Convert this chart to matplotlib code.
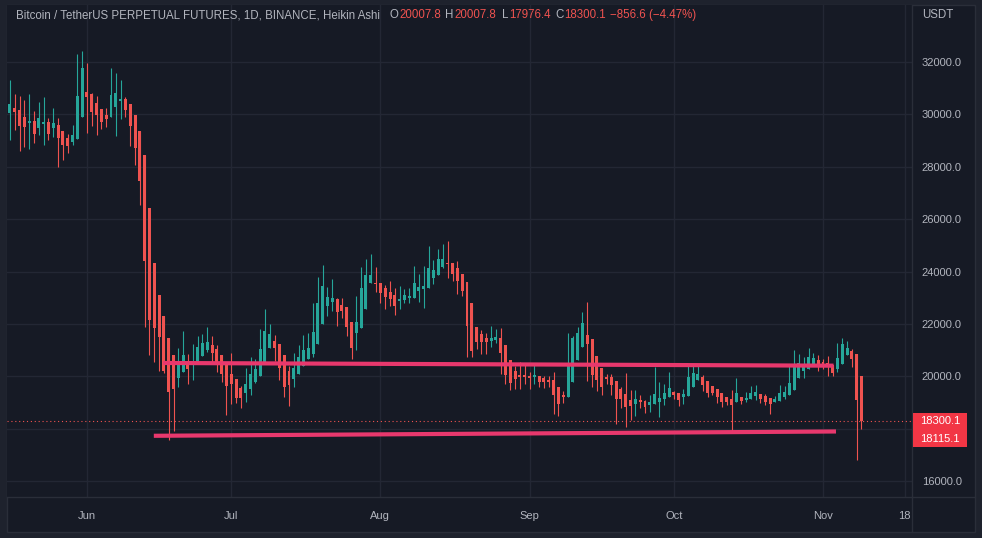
import matplotlib
matplotlib.use("Agg")
import matplotlib.pyplot as plt
from matplotlib.patches import Rectangle
from matplotlib.lines import Line2D

# Heikin Ashi daily candles, BTCUSDT perp, 16 May .. 9 Nov (index 0 = 16 May)
opens = [30064, 30244, 30167, 29900, 29682, 29748, 29491, 29634, 29710, 29491,
         29595, 29365, 29098, 28957, 29072, 29889, 30855, 30778, 30434, 30206,
         29977, 29912, 30294, 30522, 30587, 30396, 29977, 29365, 28449, 26426,
         24337, 23104, 22302, 21462, 20813, 19935, 20176, 20558, 20431, 20458,
         20786, 21004, 21195, 21042, 20813, 20458, 20087, 19897, 19553, 19374,
         19527, 19770, 20024, 20508, 21092, 21348, 21233, 20813, 20202, 19908,
         20100, 20405, 20672, 20863, 21245, 22009, 22698, 22848, 22951, 22722,
         22645, 22073, 21665, 21856, 22581, 23574, 23562, 23562, 23371, 23218,
         23104, 22887, 22925, 22989, 23001, 23257, 23333, 23371, 23753, 23880,
         24185, 24325, 24325, 24135, 23905, 23600, 22798, 21882, 21615, 21462,
         21348, 21386, 21462, 21195, 20622, 20202, 20061, 20049, 20011, 19985,
         20011, 19935, 19870, 19870, 19591, 19286, 19221, 19794, 20634, 21130,
         21576, 21424, 20775, 20317, 19973, 19973, 19832, 19526, 19335, 19107,
         18954, 19083, 19056, 18904, 18942, 19018, 19133, 19209, 19400, 19362,
         19209, 19247, 19591, 19858, 19973, 19820, 19629, 19514, 19362, 19209,
         19133, 19018, 19209, 19094, 19133, 19247, 19324, 19247, 19171, 19018,
         19056, 19209, 19285, 19476, 19935, 20202, 20278, 20469, 20622, 20546,
         20508, 20431, 20278, 20469, 20813, 20966, 20851, 20007.8]
highs = [31313, 30778, 30701, 30549, 30778, 30117, 30473, 30676, 29862, 30244,
         29862, 29377, 29251, 29595, 32305, 32431, 31950, 30804, 30702, 30206,
         30232, 31771, 31580, 31313, 30664, 30396, 29977, 29365, 28449, 26426,
         24337, 23104, 22302, 21462, 20813, 21068, 21729, 20851, 21233, 21538,
         21615, 21882, 21538, 21195, 20813, 20458, 20889, 19897, 19642, 20317,
         20736, 20660, 21805, 22569, 21996, 21577, 21233, 20813, 20393, 20889,
         21195, 21577, 21653, 22798, 23791, 24249, 23409, 23714, 22989, 22989,
         22645, 22073, 23066, 24173, 24478, 24669, 24173, 23562, 23485, 23638,
         23371, 23447, 23333, 23371, 24211, 23905, 24211, 24975, 24440, 24860,
         25051, 25165, 24325, 24402, 23905, 23600, 22798, 21882, 21767, 21653,
         21920, 21806, 21844, 21195, 20622, 20393, 20546, 20431, 20164, 20431,
         20011, 20011, 20011, 20164, 19591, 19439, 21653, 21538, 21882, 22454,
         22836, 21424, 20775, 20317, 20087, 20087, 19832, 19603, 20126, 19488,
         19488, 19285, 19094, 19285, 20355, 19782, 19705, 20164, 19438, 19362,
         19514, 20469, 20431, 20431, 20049, 19820, 19629, 19514, 19362, 19209,
         19476, 19935, 19209, 19400, 19629, 19667, 19324, 19324, 19171, 19247,
         19667, 19629, 20393, 21004, 20851, 20736, 21080, 20889, 20813, 20660,
         20775, 20431, 21271, 21462, 21348, 21042, 20851, 20007.8]
lows = [29033, 29414, 28613, 28743, 28690, 28919, 29224, 28843, 29022, 29148,
        27979, 28258, 28537, 28843, 29072, 29889, 29300, 29568, 29224, 29453,
        29530, 29888, 29186, 29835, 29911, 28804, 28079, 26552, 21893, 20813,
        20546, 20202, 20126, 17568, 17923, 19603, 20176, 19706, 19859, 20458,
        20786, 20928, 20546, 20176, 19794, 18522, 18943, 18969, 18777, 19030,
        19297, 19755, 20024, 20508, 21092, 20584, 19859, 19221, 18877, 19603,
        20100, 20405, 20672, 20749, 21245, 22009, 22314, 22505, 21933, 22238,
        21550, 20672, 21016, 21856, 22581, 23574, 23219, 22798, 22569, 22684,
        22340, 22581, 22810, 22810, 23001, 22848, 22619, 23371, 23524, 23880,
        24135, 23753, 23638, 23142, 23077, 20749, 20749, 21054, 20851, 20851,
        21130, 21271, 20087, 19718, 19488, 19527, 19527, 19718, 19527, 19718,
        19603, 19565, 19603, 18561, 18484, 18992, 19221, 19794, 20634, 21130,
        19832, 19603, 19450, 19297, 19718, 19297, 18190, 18801, 18076, 18343,
        18496, 18790, 18598, 18637, 18942, 18445, 18904, 19209, 19133, 18866,
        18942, 19247, 19591, 19858, 19438, 19209, 19285, 18980, 18828, 18904,
        17911, 19018, 18942, 19018, 19133, 19094, 18980, 18904, 18560, 19018,
        19056, 19133, 19285, 19476, 19935, 19935, 20278, 20469, 20202, 20278,
        20011, 20011, 20164, 20469, 20813, 20355, 16804, 17976.4]
closes = [30396, 30103, 29567, 29529, 29748, 29262, 29862, 29710, 29262, 29672,
          29110, 28843, 28804, 29213, 30701, 31771, 30676, 30102, 29988, 29720,
          29824, 30740, 30816, 30587, 30167, 29568, 28728, 27468, 24413, 22149,
          21855, 21512, 20202, 19400, 19527, 20431, 20813, 20291, 20558, 21118,
          21271, 21309, 20889, 20519, 20096, 19642, 19718, 19183, 19183, 19706,
          20087, 20278, 21042, 21729, 21615, 21092, 20329, 19603, 19679, 20317,
          20736, 21004, 21080, 21691, 22798, 23447, 23027, 22989, 22467, 22505,
          21894, 21092, 22073, 23371, 23867, 23867, 23524, 23180, 23040, 22951,
          22684, 22963, 23104, 23066, 23562, 23409, 23447, 24135, 24058, 24478,
          24478, 24300, 23905, 23638, 23257, 21932, 20977, 21322, 21309, 21322,
          21462, 21500, 20901, 20061, 19754, 19908, 19973, 19973, 19947, 20049,
          19794, 19782, 19782, 19297, 18954, 19221, 20393, 21462, 21653, 22034,
          21245, 20061, 19870, 19603, 19908, 19679, 19145, 19145, 18839, 18878,
          19145, 19018, 18828, 19018, 19324, 19171, 19362, 19553, 19285, 19094,
          19324, 19973, 20126, 20087, 19667, 19362, 19362, 19209, 19018, 19018,
          18904, 19362, 19056, 19171, 19362, 19400, 19133, 19018, 18942, 19133,
          19362, 19400, 19744, 20469, 20508, 20355, 20736, 20698, 20469, 20393,
          20355, 20126, 20698, 21233, 21080, 20660, 19094, 18300.1]

month_pos = [16, 46, 77, 108, 138, 169, 186]
month_labels = ["Jun", "Jul", "Aug", "Sep", "Oct", "Nov", "18"]
price_ticks = [16000, 18000, 20000, 22000, 24000, 26000, 28000, 30000, 32000]

# the two hand drawn trend lines (day index, price)
upper_x = [31.8, 171.2]
upper_y = [20508, 20405]
lower_x = [29.9, 171.7]
lower_y = [17728, 17893]

last_price = 18300.1
extra_price = 18115.1

BG = "#161A25"
GRID = "#232734"
BORDER = "#2A2E39"
TXT = "#B2B5BE"
UP = "#26A69A"
DOWN = "#EF5350"
PINK = "#E8386D"

W, H = 982, 538


def px(x, y):
    return x / W, 1 - y / H


fig = plt.figure(figsize=(W / 100, H / 100), dpi=100, facecolor="#1E222D")
plt.rcParams["font.family"] = ["Liberation Sans", "DejaVu Sans"]

# chart frame background
fig.patches.append(Rectangle(px(7, 532), 968 / W, 527 / H, transform=fig.transFigure,
                             facecolor=BG, edgecolor=BORDER, lw=1, zorder=-2))

l, b = px(7, 497)
ax = fig.add_axes([l, b, 905 / W, 492 / H])
ax.set_facecolor(BG)
for s in ax.spines.values():
    s.set_visible(False)

ax.set_xlim(-0.62, 187.5)
ax.set_ylim(15391, 34176)

ax.set_yticks(price_ticks)
ax.set_yticklabels([f"{p:.1f}" for p in price_ticks])
ax.set_xticks(month_pos)
ax.set_xticklabels(month_labels)
ax.yaxis.tick_right()
ax.tick_params(axis="y", length=0, pad=7, labelsize=8, labelcolor=TXT)
ax.tick_params(axis="x", length=0, pad=10, labelsize=8, labelcolor=TXT)
ax.grid(True, color=GRID, lw=1)
ax.set_axisbelow(True)

n = len(opens)
idx = list(range(n))
cols = [UP if c >= o else DOWN for o, c in zip(opens, closes)]
ax.vlines(idx, lows, highs, colors=cols, lw=0.8, zorder=2)
bottoms = [min(o, c) for o, c in zip(opens, closes)]
heights = [max(abs(c - o), 40) for o, c in zip(opens, closes)]
ax.bar(idx, heights, bottom=bottoms, width=0.62, color=cols, lw=0, zorder=3)

ax.plot(upper_x, upper_y, color=PINK, lw=3, solid_capstyle="butt", zorder=4)
ax.plot(lower_x, lower_y, color=PINK, lw=3, solid_capstyle="butt", zorder=4)
ax.axhline(last_price, color=DOWN, lw=0.8, ls=(0, (1, 2.5)), zorder=1)

# separators between chart, price scale and time scale
fig.add_artist(Line2D([912 / W, 912 / W], [px(0, 5)[1], px(0, 532)[1]], color=BORDER, lw=1))
fig.add_artist(Line2D([7 / W, 975 / W], [b, b], color=BORDER, lw=1))

# price labels on the scale
for price, ytop in [(last_price, 413), (extra_price, 430)]:
    fig.patches.append(Rectangle(px(913, ytop + 16.5), 54 / W, 16.5 / H,
                                 transform=fig.transFigure, facecolor="#F23645",
                                 edgecolor="none", zorder=5))
    fig.text(*px(940, ytop + 8.5), f"{price:.1f}", color="white", fontsize=8,
             ha="center", va="center", zorder=6)

# legend line at top
fs = 8.3
fig.text(*px(15.5, 15), "Bitcoin / TetherUS PERPETUAL FUTURES, 1D, BINANCE, Heikin Ashi",
         color=TXT, fontsize=fs, va="center")
for letter, lx, val, vx in [("O", 389, "20007.8", 399), ("H", 445, "20007.8", 454.5),
                            ("L", 502, "17976.4", 509), ("C", 555, "18300.1", 564)]:
    fig.text(*px(lx, 15), letter, color=TXT, fontsize=fs, va="center")
    fig.text(*px(vx, 15), val, color=DOWN, fontsize=fs, va="center")
fig.text(*px(610, 15), "\u2212856.6 (\u22124.47%)", color=DOWN, fontsize=fs, va="center")
fig.text(*px(922, 15), "USDT", color=TXT, fontsize=fs, va="center")

fig.savefig("out.png", dpi=100, facecolor=fig.get_facecolor())
